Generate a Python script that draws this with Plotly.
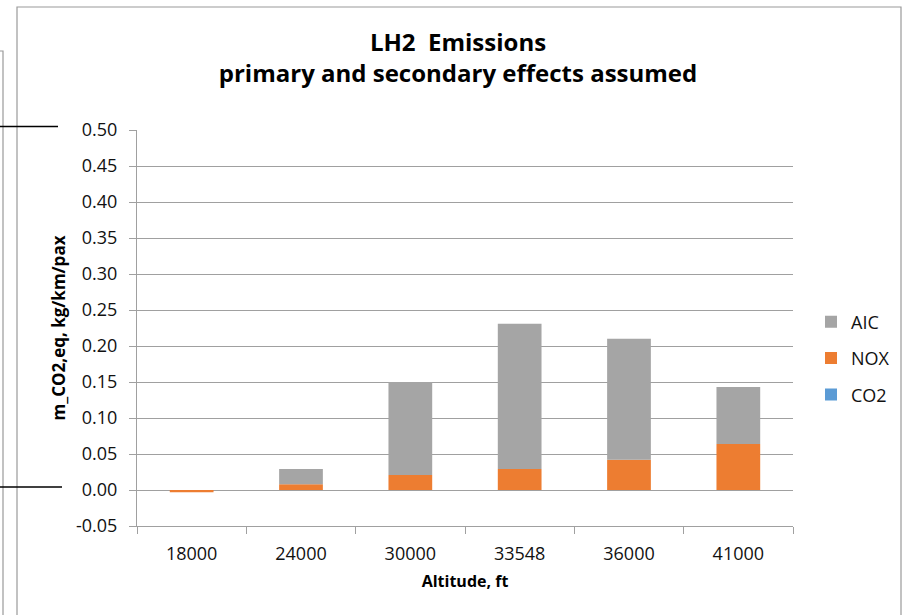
import plotly.graph_objects as go

# ---- data ----
altitudes = ["18000", "24000", "30000", "33548", "36000", "41000"]
co2 = [0.0, 0.0, 0.0, 0.0, 0.0, 0.0]
nox = [-0.003, 0.008, 0.021, 0.029, 0.042, 0.064]
aic = [0.0, 0.021, 0.129, 0.202, 0.168, 0.079]
y_ticks = [-0.05, 0.0, 0.05, 0.10, 0.15, 0.20, 0.25, 0.30, 0.35, 0.40, 0.45, 0.50]
y_labels = [f"{v:.2f}" for v in y_ticks]

W, H = 903, 615
ML, MR, MT, MB = 137, 110, 130, 89
PW, PH = W - ML - MR, H - MT - MB

def px(x):
    return (x - ML) / PW

def py(y):
    return (H - MB - y) / PH

FONT = "Open Sans"
TXT = "#111111"
GRID = "#a0a0a0"

fig = go.Figure()
fig.add_trace(go.Bar(x=altitudes, y=co2, name="CO2", marker=dict(color="#5B9BD5", line=dict(width=0)),
                     legendgroup="co2", legendrank=3))
fig.add_trace(go.Bar(x=altitudes, y=nox, name="NOX", marker=dict(color="#ED7D31", line=dict(width=0)),
                     legendgroup="nox", legendrank=2))
fig.add_trace(go.Bar(x=altitudes, y=aic, name="AIC", marker=dict(color="#A5A5A5", line=dict(width=0)),
                     legendgroup="aic", legendrank=1))

shapes = [
    # chart frame
    dict(type="rect", xref="paper", yref="paper", x0=px(17), x1=px(901), y0=py(7), y1=py(640),
         line=dict(color="#9a9a9a", width=1.2), fillcolor="rgba(0,0,0,0)", layer="below"),
    # background box edge on left
    dict(type="path", xref="paper", yref="paper",
         path=f"M {px(-2)},{py(51)} L {px(3)},{py(51)} L {px(3)},{py(640)}",
         line=dict(color="#9a9a9a", width=1.2)),
    # black leader lines on the left
    dict(type="line", xref="paper", yref="paper", x0=px(-2), x1=px(58), y0=py(126.5), y1=py(126.5),
         line=dict(color="#000000", width=1.3)),
    dict(type="line", xref="paper", yref="paper", x0=px(-2), x1=px(62), y0=py(487), y1=py(487),
         line=dict(color="#000000", width=1.3)),
]

fig.update_layout(
    width=W, height=H,
    margin=dict(l=ML, r=MR, t=MT, b=MB, autoexpand=False),
    paper_bgcolor="white", plot_bgcolor="white",
    barmode="relative", bargap=0.6,
    font=dict(family=FONT, size=18, color=TXT),
    title=dict(text="<b>LH2  Emissions<br>primary and secondary effects assumed</b>",
               x=458 / W, xanchor="center", y=1 - 51 / H, yanchor="middle",
               font=dict(family=FONT, size=24, color="#000000")),
    legend=dict(x=px(811), xanchor="left", y=py(358.5), yanchor="middle",
                traceorder="grouped", tracegroupgap=10,
                font=dict(family=FONT, size=18, color=TXT), bgcolor="rgba(0,0,0,0)"),
    showlegend=True,
    shapes=shapes,
    xaxis=dict(type="category", showline=True, linecolor=GRID, linewidth=1,
               ticks="outside", tickson="boundaries", ticklen=7, tickcolor=GRID,
               showgrid=False, tickfont=dict(size=18, color=TXT), ticklabelstandoff=11,
               title=dict(text="<b>Altitude, ft</b>", font=dict(size=16, color="#000000"), standoff=12)),
    yaxis=dict(range=[-0.05, 0.5], tickmode="array", tickvals=y_ticks, ticktext=y_labels,
               showline=True, linecolor=GRID, linewidth=1,
               ticks="outside", ticklen=7, tickcolor=GRID,
               showgrid=True, gridcolor=GRID, gridwidth=1,
               zeroline=True, zerolinecolor=GRID, zerolinewidth=1,
               ticklabelstandoff=8, tickfont=dict(size=18, color=TXT),
               title=dict(text="<b>m_CO2,eq, kg/km/pax</b>", font=dict(size=17, color="#000000"), standoff=6)),
)

fig.write_html("out.html", config={"displayModeBar": False},
               post_script="document.body.style.margin='0';")
